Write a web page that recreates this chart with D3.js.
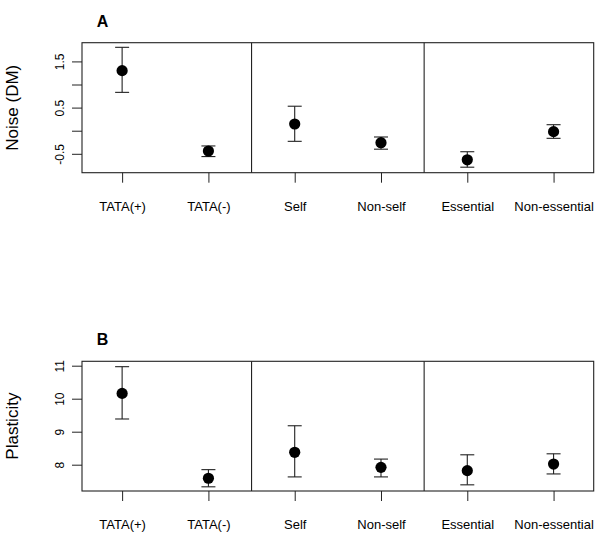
<!DOCTYPE html>
<html>
<head>
<meta charset="utf-8">
<script src="https://cdn.jsdelivr.net/npm/d3@7"></script>
<style>
  html, body { margin: 0; padding: 0; background: #fff; }
  svg { display: block; font-family: "Liberation Sans", Arial, sans-serif; }
</style>
</head>
<body>
<svg id="chart" width="600" height="535"></svg>
<script>
// ---- data ----
const categories = ["TATA(+)", "TATA(-)", "Self", "Non-self", "Essential", "Non-essential"];
const groupDividers = [2.5, 4.5];

const noiseMean  = [1.30, -0.44, 0.145, -0.26, -0.63, -0.02];
const noiseLower = [0.83, -0.56, -0.23, -0.40, -0.79, -0.165];
const noiseUpper = [1.805, -0.33, 0.53, -0.136, -0.455, 0.13];
const noiseTicks = [-0.5, 0, 0.5, 1, 1.5];
const noiseTickLabels = ["-0.5", "", "0.5", "", "1.5"];

const plastMean  = [10.16, 7.59, 8.375, 7.92, 7.82, 8.02];
const plastLower = [9.385, 7.33, 7.63, 7.63, 7.39, 7.72];
const plastUpper = [10.97, 7.85, 9.18, 8.17, 8.30, 8.33];
const plastTicks = [8, 9, 10, 11];
const plastTickLabels = ["8", "9", "10", "11"];

// ---- layout ----
const svg = d3.select("#chart");
const left = 82, right = 593.7;
const x = d3.scaleLinear().domain([0.535, 6.465]).range([left, right]);
const ink = "#222";

const panels = [
  { letter: "A", title: "Noise (DM)", top: 42.7, bottom: 172.7, domain: [-0.909, 1.905],
    mean: noiseMean, lower: noiseLower, upper: noiseUpper, ticks: noiseTicks, tickLabels: noiseTickLabels },
  { letter: "B", title: "Plasticity", top: 361.3, bottom: 491, domain: [7.203, 11.133],
    mean: plastMean, lower: plastLower, upper: plastUpper, ticks: plastTicks, tickLabels: plastTickLabels }
];

panels.forEach(p => {
  const y = d3.scaleLinear().domain(p.domain).range([p.bottom, p.top]);
  const g = svg.append("g");

  // x axis
  const xAxis = d3.axisBottom(x)
    .tickValues(d3.range(1, categories.length + 1))
    .tickSize(10)
    .tickFormat((d, i) => categories[i]);
  const gx = g.append("g").attr("transform", `translate(0,${p.bottom})`).call(xAxis);
  gx.select(".domain").remove();
  gx.selectAll(".tick line").attr("stroke", ink);
  gx.selectAll(".tick text")
    .attr("y", 38.3).attr("dy", 0)
    .attr("font-size", 13).attr("fill", "#000")
    .attr("font-family", "Liberation Sans, Arial, sans-serif");

  // y axis
  const yAxis = d3.axisLeft(y)
    .tickValues(p.ticks)
    .tickSize(10)
    .tickFormat((d, i) => p.tickLabels[i]);
  const gy = g.append("g").attr("transform", `translate(${left},0)`).call(yAxis);
  gy.select(".domain").remove();
  gy.selectAll(".tick line").attr("stroke", ink);
  gy.selectAll(".tick text")
    .attr("x", 0).attr("y", 0).attr("dy", 0)
    .attr("transform", "translate(-18,0) rotate(-90)")
    .attr("text-anchor", "middle")
    .attr("font-size", 12).attr("fill", "#000")
    .attr("font-family", "Liberation Sans, Arial, sans-serif");

  // box
  g.append("rect")
    .attr("x", left).attr("y", p.top)
    .attr("width", right - left).attr("height", p.bottom - p.top)
    .attr("fill", "none").attr("stroke", ink).attr("stroke-width", 1.1);

  // group dividers
  g.selectAll("line.div").data(groupDividers).join("line")
    .attr("class", "div")
    .attr("x1", d => x(d)).attr("x2", d => x(d))
    .attr("y1", p.top).attr("y2", p.bottom)
    .attr("stroke", ink).attr("stroke-width", 1.1);

  const idx = d3.range(categories.length);
  // error bars
  const eb = g.selectAll("g.eb").data(idx).join("g").attr("class", "eb")
    .attr("stroke", ink).attr("stroke-width", 1.1);
  eb.append("line")
    .attr("x1", i => x(i + 1)).attr("x2", i => x(i + 1))
    .attr("y1", i => y(p.lower[i])).attr("y2", i => y(p.upper[i]));
  eb.append("line")
    .attr("x1", i => x(i + 1) - 7).attr("x2", i => x(i + 1) + 7)
    .attr("y1", i => y(p.lower[i])).attr("y2", i => y(p.lower[i]));
  eb.append("line")
    .attr("x1", i => x(i + 1) - 7).attr("x2", i => x(i + 1) + 7)
    .attr("y1", i => y(p.upper[i])).attr("y2", i => y(p.upper[i]));

  // points
  g.selectAll("circle.pt").data(idx).join("circle")
    .attr("class", "pt")
    .attr("cx", i => x(i + 1)).attr("cy", i => y(p.mean[i]))
    .attr("r", 5.6).attr("fill", "#000");

  // panel letter
  g.append("text")
    .attr("x", 102.5).attr("y", p.top - 16.2)
    .attr("text-anchor", "middle")
    .attr("font-size", 16).attr("font-weight", "bold")
    .text(p.letter);

  // y title
  g.append("text")
    .attr("transform", `translate(17.5,${(p.top + p.bottom) / 2}) rotate(-90)`)
    .attr("text-anchor", "middle")
    .attr("font-size", 17)
    .text(p.title);
});
</script>
</body>
</html>
